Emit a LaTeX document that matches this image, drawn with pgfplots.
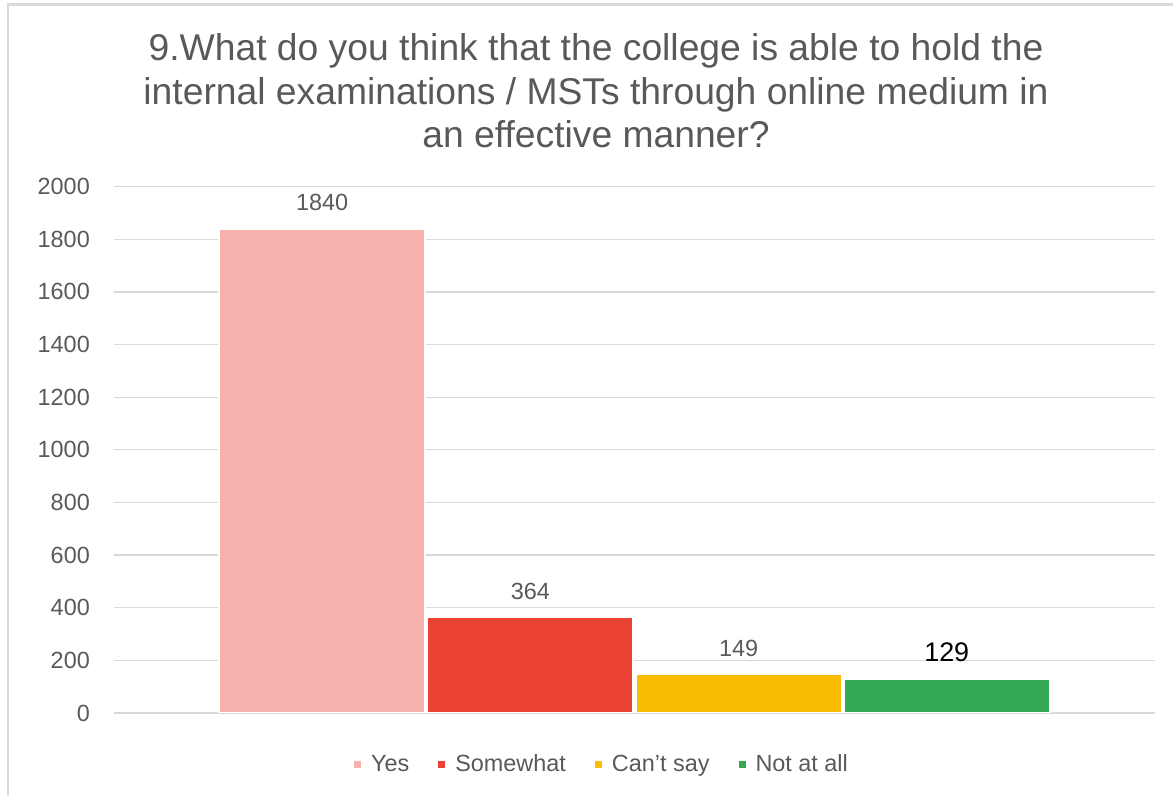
\documentclass[border=0pt]{standalone}
\usepackage{fontspec}
\setmainfont{Liberation Sans}
\usepackage{pgfplots}
\pgfplotsset{compat=1.18}
\definecolor{cyes}{HTML}{F6B3AE}
\definecolor{csome}{HTML}{EA4335}
\definecolor{ccant}{HTML}{FBBC04}
\definecolor{cnot}{HTML}{34A853}
\definecolor{txt}{HTML}{595959}
\definecolor{gridc}{HTML}{D9D9D9}
\begin{document}
\begin{tikzpicture}[x=1bp,y=1bp]
\useasboundingbox (-114,-83) rectangle (1059,713);
\begin{scope}
\clip (-114,-83) rectangle (1059,713);
\draw[gridc, line width=2.5bp] (-106,708.5) rectangle (1100,-120);
\end{scope}
\node[align=center, text=txt, font=\fontsize{37.4}{43.5}\selectfont] at (482,622)
 {9.What do you think that the college is able to hold the\\internal examinations / MSTs through online medium in\\an effective manner?};
\begin{axis}[
 at={(0,0)}, anchor=south west,
 scale only axis, width=1041bp, height=526.4bp,
 xmin=-1, xmax=4, ymin=0, ymax=2000,
 ytick={0,200,...,2000}, xtick=\empty,
 ymajorgrids, major grid style={draw=gridc, line width=1.3bp},
 axis line style={draw=none},
 major tick length=0pt,
 ybar, bar width=0.99,
 /pgf/number format/assume math mode=true,
 /pgf/number format/1000 sep={},
 yticklabel style={font=\fontsize{23.5}{28}\selectfont, text=txt, inner sep=0pt, xshift=-24bp},
 legend columns=4,
 legend image code/.code={\fill[#1] (0bp,-4.5bp) rectangle (9bp,4.5bp);},
 legend style={at={(0.4669,-0.0969)}, anchor=center, draw=none, fill=none,
   font=\fontsize{23.5}{28}\selectfont, text=txt, column sep=0pt,
   nodes={inner sep=0pt},
   /tikz/every odd column/.append style={column sep=8bp},
   /tikz/every even column/.append style={column sep=27bp}},
 nodes near coords,
 every node near coord/.append style={font=\fontsize{23.5}{28}\selectfont, text=txt, inner sep=0pt, anchor=south, yshift=16.5bp},
]
\addplot[fill=cyes, draw=white, line width=2bp, bar shift=0pt] coordinates {(0,1840)};
\addlegendentry{Yes}
\addplot[fill=csome, draw=white, line width=2bp, bar shift=0pt] coordinates {(1,364)};
\addlegendentry{Somewhat}
\addplot[fill=ccant, draw=white, line width=2bp, bar shift=0pt] coordinates {(2,149)};
\addlegendentry{Can’t say}
\addplot[fill=cnot, draw=white, line width=2bp, bar shift=0pt,
  every node near coord/.append style={font=\fontsize{27}{32}\selectfont, text=black}] coordinates {(3,129)};
\addlegendentry{Not at all}
\end{axis}
\end{tikzpicture}
\end{document}
